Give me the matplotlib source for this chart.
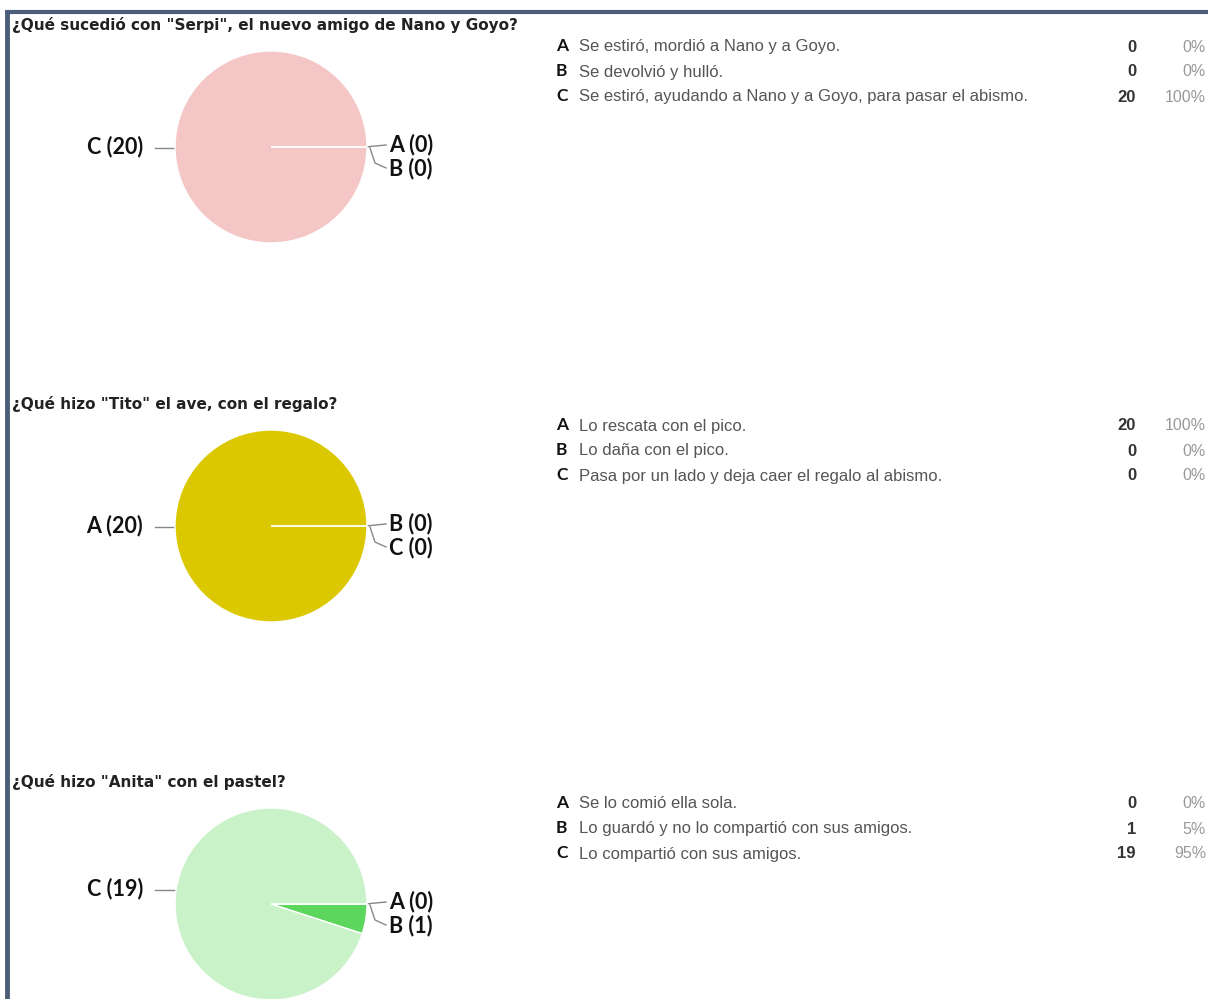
import math
import matplotlib
matplotlib.use('Agg')
import matplotlib.pyplot as plt

W, H = 1208, 999

letters = ['A', 'B', 'C']

q1_title = '¿Qué sucedió con "Serpi", el nuevo amigo de Nano y Goyo?'
q1_options = ['Se estiró, mordió a Nano y a Goyo.',
              'Se devolvió y hulló.',
              'Se estiró, ayudando a Nano y a Goyo, para pasar el abismo.']
q1_counts = [0, 0, 20]
q1_colors = ['#f4c6c6', '#f4c6c6', '#f4c6c6']

q2_title = '¿Qué hizo "Tito" el ave, con el regalo?'
q2_options = ['Lo rescata con el pico.',
              'Lo daña con el pico.',
              'Pasa por un lado y deja caer el regalo al abismo.']
q2_counts = [20, 0, 0]
q2_colors = ['#dbc800', '#dbc800', '#dbc800']

q3_title = '¿Qué hizo "Anita" con el pastel?'
q3_options = ['Se lo comió ella sola.',
              'Lo guardó y no lo compartió con sus amigos.',
              'Lo compartió con sus amigos.']
q3_counts = [0, 1, 19]
q3_colors = ['#5dd65d', '#5dd65d', '#c9f2c9']

fig = plt.figure(figsize=(W / 100, H / 100), dpi=100)
fig.patch.set_facecolor('white')

ov = fig.add_axes([0, 0, 1, 1])
ov.set_xlim(0, W)
ov.set_ylim(H, 0)
ov.axis('off')

# frame of the screenshot
border = '#4b5d78'
ov.plot([5, W], [11.5, 11.5], color=border, lw=3, solid_capstyle='butt')
ov.plot([7, 7], [10, H], color=border, lw=3.5, solid_capstyle='butt')

label_font = ['Lato', 'DejaVu Sans']
R = 96
cx = 271

sections = [
    (q1_title, q1_options, q1_counts, q1_colors, 25),
    (q2_title, q2_options, q2_counts, q2_colors, 404),
    (q3_title, q3_options, q3_counts, q3_colors, 782),
]

for title, options, counts, colors, y0 in sections:
    ov.text(12, y0, title, fontsize=11, fontweight='bold', color='#222222',
            family='DejaVu Sans', va='center', ha='left')

    total = sum(counts)
    for i, (let, opt, c) in enumerate(zip(letters, options, counts)):
        yy = y0 + 21 + i * 25
        ov.text(556, yy, let, fontsize=12.5, fontweight='bold', color='#111111',
                family=label_font, va='center', ha='left')
        ov.text(579, yy + 1, opt, fontsize=12, color='#555555',
                family='Liberation Sans', va='center', ha='left')
        ov.text(1136, yy + 1, str(c), fontsize=12, fontweight='bold', color='#333333',
                family='Liberation Sans', va='center', ha='right')
        ov.text(1206, yy + 1, f'{round(100 * c / total)}%', fontsize=11.5, color='#999999',
                family='Liberation Sans', va='center', ha='right')

    cy = y0 + 122
    pax = fig.add_axes([(cx - R) / W, (H - cy - R) / H, 2 * R / W, 2 * R / H])
    wedges, _ = pax.pie(counts, colors=colors, startangle=0, counterclock=False,
                        wedgeprops=dict(edgecolor='white', linewidth=1.0))
    for w, c in zip(wedges, counts):
        if c == 0:
            w.set_zorder(5)
    pax.set_xlim(-1, 1)
    pax.set_ylim(-1, 1)
    pax.axis('off')

    # labels: the big slice on the left (at its mid angle), the small ones on the right
    big = counts.index(max(counts))
    small = [i for i in range(3) if i != big]
    mid = -360 * (sum(counts[:big]) + counts[big] / 2) / total
    big_y = cy - R * math.sin(math.radians(mid))
    ov.text(143, big_y, f'{letters[big]} ({counts[big]})', fontsize=15.5, fontweight='bold',
            color='#111111', family=label_font, va='center', ha='right')
    ov.plot([155, cx - R + 2], [big_y + 1, big_y + 1], color='#888888', lw=1)
    for k, i in enumerate(small):
        ly = cy - 2 + k * 24
        ov.text(389, ly, f'{letters[i]} ({counts[i]})', fontsize=15.5, fontweight='bold',
                color='#111111', family=label_font, va='center', ha='left')
    ov.plot([cx + R - 2, 386], [cy, cy - 2], color='#888888', lw=1)
    ov.plot([cx + R + 3, cx + R + 8, 386], [cy + 1, cy + 16, cy + 21], color='#888888', lw=1)

fig.savefig('out.png', dpi=100, facecolor='white')
